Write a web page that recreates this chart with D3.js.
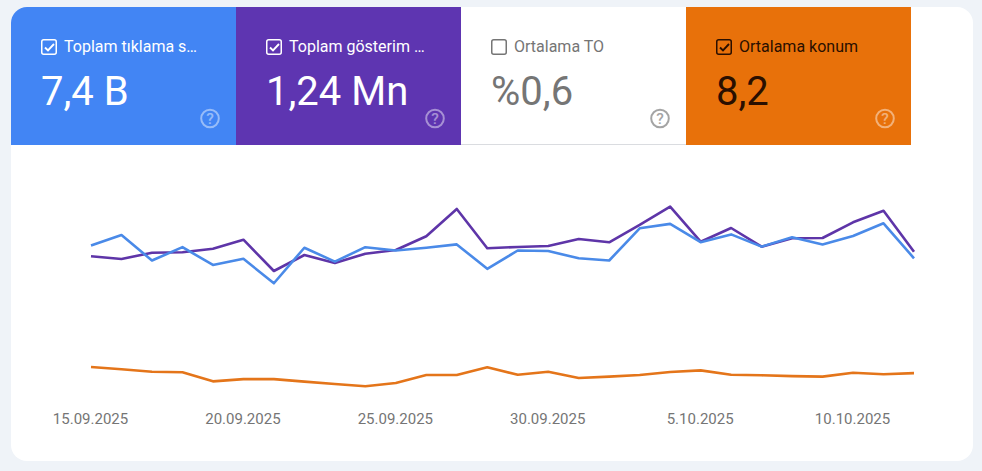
<!DOCTYPE html>
<html>
<head>
<meta charset="utf-8">
<script src="https://cdn.jsdelivr.net/npm/d3@7"></script>
<style>
  html, body { margin: 0; padding: 0; background: #eff3f8; overflow: hidden; }
  svg { display: block; font-family: Roboto, sans-serif; }
</style>
</head>
<body>
<div id="chart"></div>
<script>
const tileLabels = ["Toplam tıklama s…", "Toplam gösterim …", "Ortalama TO", "Ortalama konum"];
const tileValues = ["7,4 B", "1,24 Mn", "%0,6", "8,2"];
const tileChecked = [true, true, false, true];
const tileFills = ["#4285f4", "#5e35b1", "#ffffff", "#e8710a"];
const tileTexts = ["#ffffff", "#ffffff", "#757575", "#2a0f00"];

const startDate = new Date(2025, 8, 15);
const tickDates = [new Date(2025, 8, 15), new Date(2025, 8, 20), new Date(2025, 8, 25), new Date(2025, 8, 30), new Date(2025, 9, 5), new Date(2025, 9, 10)];

const clicks = [271, 290, 244, 268, 236, 247, 203, 267, 242, 268, 262, 267, 273, 229, 262, 261, 248, 244, 302, 310, 277, 291, 269, 286, 273, 288, 311, 248];
const impressions = [41210, 40420, 42270, 42390, 43450, 46110, 36880, 41600, 39240, 41980, 43070, 47110, 55170, 43570, 43960, 44250, 46320, 45340, 50450, 55840, 45520, 49560, 44040, 46520, 46610, 51240, 54660, 42570];
const positions = [7.90, 7.98, 8.07, 8.09, 8.42, 8.34, 8.34, 8.43, 8.52, 8.60, 8.48, 8.19, 8.19, 7.91, 8.18, 8.07, 8.30, 8.25, 8.19, 8.08, 8.02, 8.18, 8.20, 8.23, 8.25, 8.11, 8.16, 8.12];

const dates = clicks.map((d, i) => d3.timeDay.offset(startDate, i));

const width = 982;
const height = 471;

const svg = d3.select("#chart")
  .append("svg")
  .attr("width", width)
  .attr("height", height);

// white card, tiles are clipped to its rounded corners
svg.append("defs").append("clipPath")
  .attr("id", "card-clip")
  .append("rect")
  .attr("x", 11).attr("y", 7)
  .attr("width", 962).attr("height", 454)
  .attr("rx", 16);

svg.append("rect")
  .attr("x", 11).attr("y", 7)
  .attr("width", 962).attr("height", 454)
  .attr("rx", 16)
  .attr("fill", "#fff");

const tileX = d3.scaleBand().domain(d3.range(4)).range([11, 911]);

const tile = svg.append("g")
  .attr("clip-path", "url(#card-clip)")
  .selectAll("g")
  .data(tileLabels)
  .join("g")
  .attr("transform", (d, i) => `translate(${tileX(i)},7)`);

tile.append("rect")
  .attr("width", tileX.bandwidth())
  .attr("height", 138)
  .attr("fill", (d, i) => tileFills[i]);

// only the unselected tile shows a bottom rule
tile.filter((d, i) => !tileChecked[i]).append("line")
  .attr("x1", 0).attr("x2", tileX.bandwidth())
  .attr("y1", 137.5).attr("y2", 137.5)
  .attr("stroke", "#dadce0");

tile.append("rect")
  .attr("x", 30.75).attr("y", 32.75)
  .attr("width", 14.5).attr("height", 14.5)
  .attr("rx", 2)
  .attr("fill", "none")
  .attr("stroke", (d, i) => tileTexts[i])
  .attr("stroke-width", 1.5);

tile.filter((d, i) => tileChecked[i]).append("path")
  .attr("d", "M34,40.5l3,3l6,-6.5")
  .attr("fill", "none")
  .attr("stroke", d => tileTexts[tileLabels.indexOf(d)])
  .attr("stroke-width", 1.9);

tile.append("text")
  .attr("x", 53).attr("y", 45)
  .attr("font-size", 16)
  .attr("fill", (d, i) => tileTexts[i])
  .text(d => d);

tile.append("text")
  .attr("x", 30).attr("y", 98)
  .attr("font-size", 40)
  .attr("fill", (d, i) => tileTexts[i])
  .text((d, i) => tileValues[i]);

// help icon
const help = tile.append("g")
  .attr("transform", "translate(199,111.5)")
  .attr("opacity", (d, i) => i === 2 ? 0.65 : 0.45);

help.append("circle")
  .attr("r", 8.8)
  .attr("fill", "none")
  .attr("stroke", (d, i) => i === 2 ? "#757575" : "#fff")
  .attr("stroke-width", 2);

help.append("text")
  .attr("text-anchor", "middle")
  .attr("y", 5.5)
  .attr("font-size", 15.5)
  .attr("font-weight", 500)
  .attr("fill", (d, i) => i === 2 ? "#757575" : "#fff")
  .text("?");

// chart
const x = d3.scaleTime()
  .domain([dates[0], dates[dates.length - 1]])
  .range([91, 914]);

const plotBottom = 396;
const plotTop = 150;

const yClicks = d3.scaleLinear().domain([0, 443]).range([plotBottom, plotTop]);
const yImpressions = d3.scaleLinear().domain([0, 72570]).range([plotBottom, plotTop]);
const yPositions = d3.scaleLinear().domain([0, 8.954]).range([plotTop, plotBottom]);

const seriesList = [
  { values: positions, y: yPositions, color: "#e4751a" },
  { values: impressions, y: yImpressions, color: "#5e35a8" },
  { values: clicks, y: yClicks, color: "#4a8ae8" }
];

svg.append("g")
  .selectAll("path")
  .data(seriesList)
  .join("path")
  .attr("fill", "none")
  .attr("stroke", d => d.color)
  .attr("stroke-width", 2.6)
  .attr("stroke-linejoin", "round")
  .attr("d", s => d3.line()
    .x((d, i) => x(dates[i]))
    .y(d => s.y(d))(s.values));

const axis = svg.append("g")
  .attr("transform", "translate(0,413)")
  .call(d3.axisBottom(x)
    .tickValues(tickDates)
    .tickSize(0)
    .tickPadding(0)
    .tickFormat(d => `${d.getDate()}.${String(d.getMonth() + 1).padStart(2, "0")}.${d.getFullYear()}`));

axis.select(".domain").remove();
axis.selectAll("text")
  .attr("font-family", "Roboto, sans-serif")
  .attr("font-size", 15)
  .attr("fill", "#757575")
  .attr("dx", -1);
</script>
</body>
</html>
